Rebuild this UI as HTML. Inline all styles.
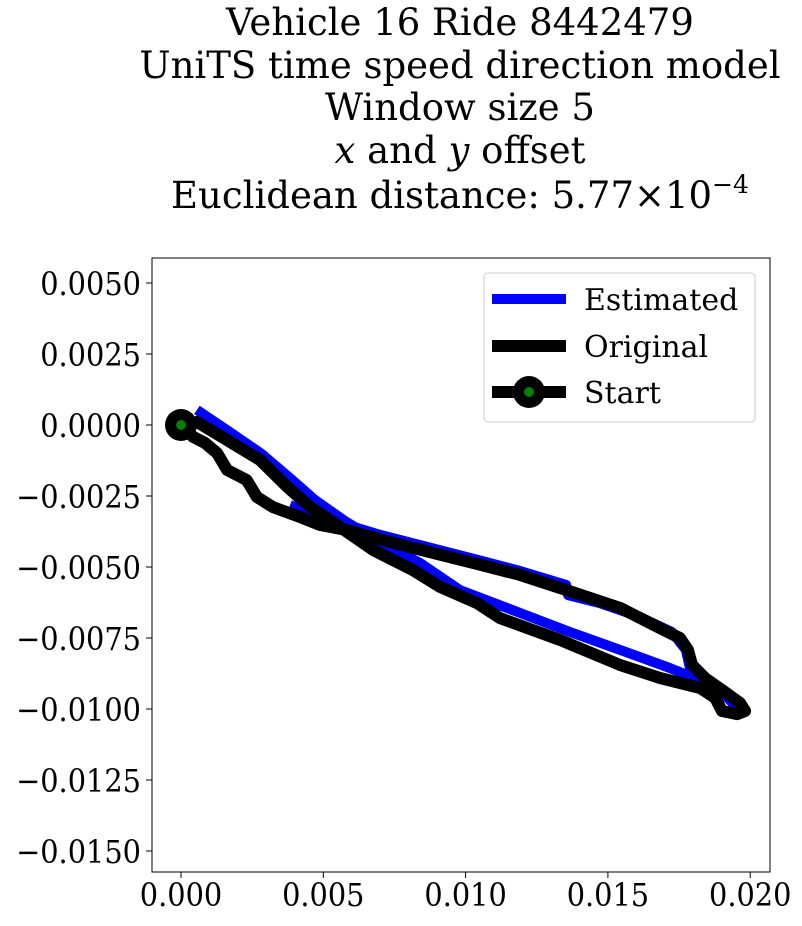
<!DOCTYPE html>
<html><head><meta charset="utf-8"><style>
body{margin:0;background:#fff;width:802px;height:921px;overflow:hidden}
svg text{font-family:"DejaVu Serif","Liberation Serif",serif}
.t{font-size:37px}
</style></head><body>
<svg id="c" width="802" height="921">
<g>
<text class="t" x="460" y="35" text-anchor="middle">Vehicle 16 Ride 8442479</text>
<text class="t" x="460" y="78" text-anchor="middle">UniTS time speed direction model</text>
<text class="t" x="460" y="120" text-anchor="middle">Window size 5</text>
<text class="t" x="460" y="163" text-anchor="middle"><tspan font-style="italic">x</tspan> and <tspan font-style="italic">y</tspan> offset</text>
<text class="t" x="460" y="208" text-anchor="middle">Euclidean distance: 5.77×10<tspan dy="-15" font-size="25">−4</tspan></text>
</g>
<rect x="152" y="258" width="618" height="614" fill="none" stroke="#000" stroke-width="1"/>
<g id="ticks"></g>
<g id="series"></g>
<g>
<rect x="484" y="273" width="271" height="149" rx="4" fill="#fff" stroke="#ccc"/>
<line x1="492" y1="299" x2="566" y2="299" stroke="#00f" stroke-width="10"/>
<text x="584" y="310" font-size="30">Estimated</text>
<line x1="492" y1="346" x2="566" y2="346" stroke="#000" stroke-width="12"/>
<text x="584" y="357" font-size="30">Original</text>
<line x1="492" y1="392" x2="566" y2="392" stroke="#000" stroke-width="12"/>
<circle cx="529" cy="392" r="16" fill="#000"/><circle cx="529" cy="392" r="5" fill="green"/>
<text x="584" y="403" font-size="30">Start</text>
</g>
</svg>
<script>
const xTicks=[0,0.005,0.010,0.015,0.020];
const xTickLabels=["0.000","0.005","0.010","0.015","0.020"];
const yTicks=[0.005,0.0025,0,-0.0025,-0.005,-0.0075,-0.01,-0.0125,-0.015];
const yTickLabels=["0.0050","0.0025","0.0000","−0.0025","−0.0050","−0.0075","−0.0100","−0.0125","−0.0150"];
const origX=[0,0.00043,0.00084,0.00127,0.00162,0.00231,0.00267,0.00323,0.00418,0.00489,0.00583,0.00745,0.01040,0.01192,0.01332,0.01543,0.01683,0.01753,0.01781,0.01796,0.01841,0.01911,0.01964,0.01982,0.01954,0.01901,0.01877,0.01824,0.01683,0.01543,0.01332,0.01121,0.01040,0.00910,0.00815,0.00675,0.00558,0.00454,0.00373,0.00277,0.00162,0.00056];
const origY=[0,-0.00042,-0.00063,-0.00099,-0.00158,-0.00194,-0.00254,-0.00289,-0.00324,-0.00352,-0.00370,-0.00415,-0.00489,-0.00528,-0.00574,-0.00644,-0.00715,-0.00750,-0.00792,-0.00845,-0.00891,-0.00940,-0.00979,-0.01007,-0.01018,-0.01007,-0.00961,-0.00926,-0.00891,-0.00845,-0.00757,-0.00680,-0.00627,-0.00570,-0.00511,-0.00440,-0.00359,-0.00289,-0.00218,-0.00123,-0.00053,0.00011];
const estX=[0.00056,0.00172,0.00284,0.00383,0.00471,0.00576,0.00700,0.00840,0.00980,0.01192,0.01367,0.01543,0.01718,0.01824,0.01893,0.01954,0.01964,0.01911,0.01841,0.01788,0.01774,0.01725,0.01613,0.01472,0.01360,0.01353,0.01192,0.01015,0.00840,0.00700,0.00576,0.00454,0.00383];
const estY=[0.00053,-0.00025,-0.00102,-0.00187,-0.00264,-0.00338,-0.00412,-0.00486,-0.00581,-0.00662,-0.00729,-0.00792,-0.00856,-0.00898,-0.00940,-0.00989,-0.01007,-0.00951,-0.00905,-0.00856,-0.00792,-0.00729,-0.00676,-0.00627,-0.00599,-0.00563,-0.00514,-0.00468,-0.00423,-0.00387,-0.00349,-0.00310,-0.00282];
const X=v=>181+v/0.005*142.3;
const Y=v=>425-v/0.0025*71;
const NS="http://www.w3.org/2000/svg";
const tg=document.getElementById('ticks'),sg=document.getElementById('series');
function mk(tag,attrs,parent){const e=document.createElementNS(NS,tag);for(const k in attrs)e.setAttribute(k,attrs[k]);parent.appendChild(e);return e;}
function squeeze(t){const w=t.getComputedTextLength();t.setAttribute('textLength',(w*0.9).toFixed(1));t.setAttribute('lengthAdjust','spacingAndGlyphs');}
xTicks.forEach((v,i)=>{
 const l=mk('line',{x1:X(v),x2:X(v),y1:872,y2:878,stroke:'#000'},tg);
 
 
 const t=mk('text',{x:X(v),y:906,'text-anchor':'middle','font-size':32},tg);t.textContent=xTickLabels[i];
 
 
 squeeze(t);
});
yTicks.forEach((v,i)=>{
 const l=mk('line',{x1:146,x2:152,y1:Y(v),y2:Y(v),stroke:'#000'},tg);
 
 
 const t=mk('text',{x:141,y:Y(v)+12,'text-anchor':'end','font-size':32},tg);t.textContent=yTickLabels[i];
 
 
 squeeze(t);
});
function pts(xs,ys){return xs.map((x,i)=>X(x).toFixed(1)+','+Y(ys[i]).toFixed(1)).join(' ');}
const e=mk('polyline',{points:pts(estX,estY),fill:'none',stroke:'#00f','stroke-width':10,'stroke-linejoin':'round'},sg);


const o=mk('polyline',{points:pts(origX,origY),fill:'none',stroke:'#000','stroke-width':12,'stroke-linejoin':'round','stroke-linecap':'round'},sg);


const s=mk('circle',{cx:X(origX[0]),cy:Y(origY[0]),r:16,fill:'#000'},sg);


const s2=mk('circle',{cx:X(origX[0]),cy:Y(origY[0]),r:5,fill:'green'},sg);


</script>
</body></html>
